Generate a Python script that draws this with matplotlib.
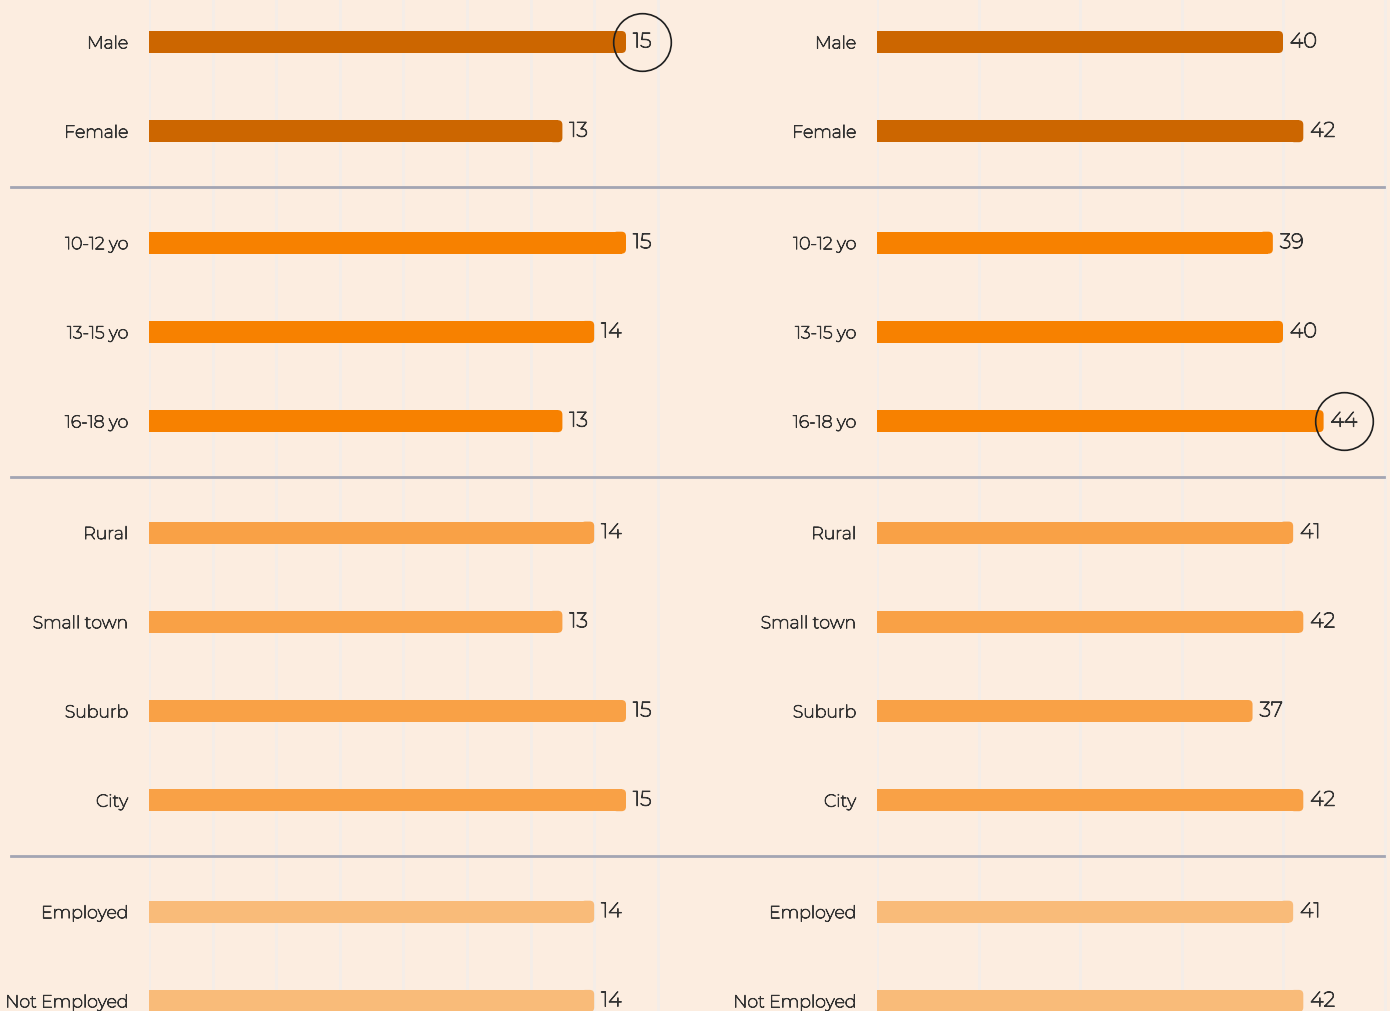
import matplotlib
matplotlib.use("Agg")
import matplotlib.pyplot as plt
import matplotlib.transforms as mtransforms
import matplotlib.patheffects as pe
from matplotlib.lines import Line2D
from matplotlib.patches import FancyBboxPatch
from matplotlib import font_manager

# ---- data ----
categories = ["Male", "Female", "10-12 yo", "13-15 yo", "16-18 yo",
              "Rural", "Small town", "Suburb", "City", "Employed", "Not Employed"]
groups = [0, 0, 1, 1, 1, 2, 2, 2, 2, 3, 3]
left_values = [15, 13, 15, 14, 13, 14, 13, 15, 15, 14, 14]
right_values = [40, 42, 39, 40, 44, 41, 42, 37, 42, 41, 42]
left_ticks = [0, 2, 4, 6, 8, 10, 12, 14, 16]
right_ticks = [0, 10, 20, 30, 40, 50]
left_highlight = "Male"
right_highlight = "16-18 yo"

# ---- style ----
BG = "#FCEDE0"
GRID = "#F4EDE8"
SEP = "#A3A5B3"
TXT = "#333333"
group_colors = ["#CC6600", "#F78100", "#F9A146", "#F9BB79"]

mont = [f for f in font_manager.fontManager.ttflist
        if f.name == "Montserrat" and f.style == "normal"]
FP = mont[0].fname if mont else None
plt.rcParams["font.family"] = ["Open Sans", "DejaVu Sans"]

def fprops(size):
    if FP:
        return font_manager.FontProperties(fname=FP, size=size)
    return font_manager.FontProperties(family=["Open Sans", "DejaVu Sans"], size=size)

LBL_FX = [pe.withStroke(linewidth=0.65, foreground=TXT)] if FP else []
VAL_FX = [pe.withStroke(linewidth=0.75, foreground=TXT)] if FP else []

W, H = 1390, 1012
ROW = 89.2
FIRST = 43.0
GROUP_GAP = 0.25
BAR_H = 22 / ROW
RADIUS_PX = 4.5

ypos = [i + GROUP_GAP * g for i, g in enumerate(groups)]
ytop = -FIRST / ROW
ybot = (H - FIRST) / ROW

fig = plt.figure(figsize=(W / 100, H / 100), dpi=100, facecolor=BG)

def make_panel(left_px, px_per_unit, xmax, values, ticks):
    ax = fig.add_axes([left_px / W, 0, xmax * px_per_unit / W, 1])
    ax.set_facecolor("none")
    ax.set_xlim(0, xmax)
    ax.set_ylim(ybot, ytop)
    for s in ax.spines.values():
        s.set_visible(False)
    ax.set_xticks(ticks)
    ax.tick_params(axis="x", length=0, labelbottom=False)
    ax.grid(axis="x", color=GRID, linewidth=2, zorder=0)
    ax.set_axisbelow(True)
    ax.set_yticks(ypos)
    ax.set_yticklabels(categories, color=TXT, fontproperties=fprops(12.5))
    for lab in ax.get_yticklabels():
        lab.set_path_effects(LBL_FX)
    ax.tick_params(axis="y", length=0, pad=15)
    colors = [group_colors[g] for g in groups]
    # square-ended body of each bar, with a rounded cap on the right end
    r = RADIUS_PX / px_per_unit
    aspect = px_per_unit / ROW
    ax.barh(ypos, [v - r for v in values], height=BAR_H, color=colors, zorder=2,
            linewidth=0)
    for y, v, c in zip(ypos, values, colors):
        ax.add_patch(FancyBboxPatch((v - 3 * r, y - BAR_H / 2), 3 * r, BAR_H,
                                    boxstyle=f"round,pad=0,rounding_size={r}",
                                    mutation_aspect=aspect, facecolor=c,
                                    linewidth=0, zorder=2))
    texts = {}
    for cat, y, v in zip(categories, ypos, values):
        t = ax.annotate(str(v), xy=(v, y), xytext=(5, 0), textcoords="offset points",
                        ha="left", va="center", color=TXT,
                        fontproperties=fprops(15), annotation_clip=False,
                        path_effects=VAL_FX)
        texts[cat] = t
    return ax, texts

axL, tL = make_panel(149, 31.8, 17, left_values, left_ticks)
axR, tR = make_panel(877, 10.15, 50.5, right_values, right_ticks)

trans = mtransforms.blended_transform_factory(fig.transFigure, axL.transData)
for k in range(1, len(groups)):
    if groups[k] != groups[k - 1]:
        ysep = (ypos[k - 1] + ypos[k]) / 2
        fig.add_artist(Line2D([11 / W, 1384 / W], [ysep, ysep], transform=trans,
                              color=SEP, linewidth=2))

fig.canvas.draw()
for ax, texts, cat in [(axL, tL, left_highlight), (axR, tR, right_highlight)]:
    bb = texts[cat].get_window_extent()
    cx, cy = (bb.x0 + bb.x1) / 2, ypos[categories.index(cat)]
    dx, _ = ax.transData.inverted().transform((cx, 0))
    ax.plot([dx], [cy], marker="o", ms=41.5, mfc="none", mec="#1f1f1f",
            mew=1.2, clip_on=False, zorder=5)

fig.savefig("out.png", dpi=100, facecolor=BG)
